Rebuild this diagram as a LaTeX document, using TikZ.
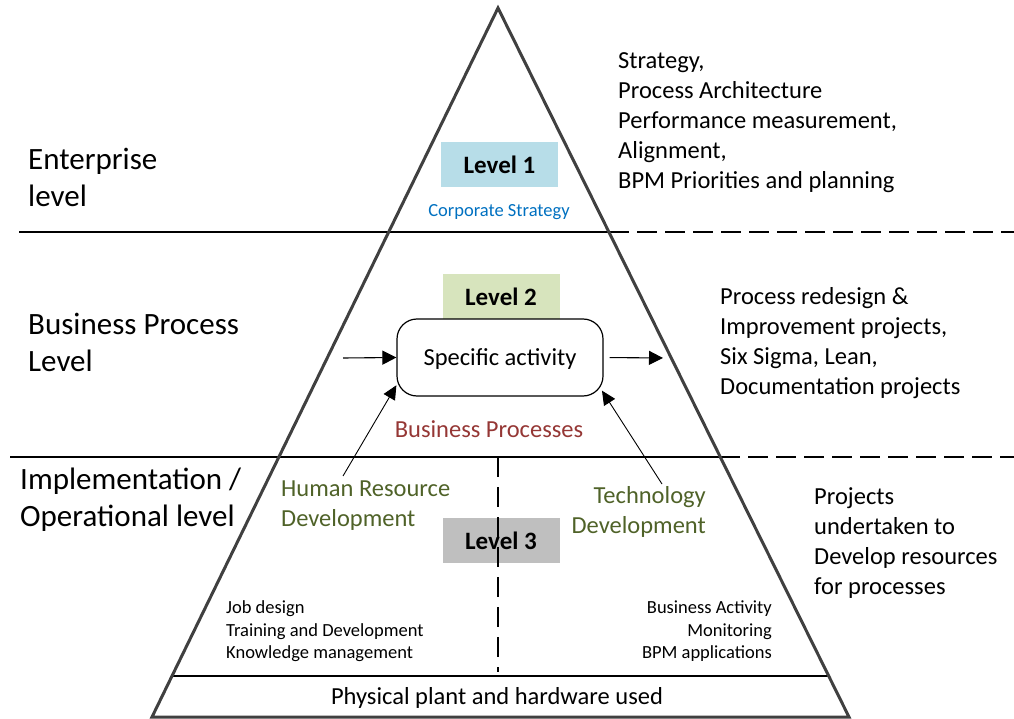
\documentclass[tikz,border=0pt]{standalone}
\usepackage{fontspec}
\setmainfont{Carlito}
\usetikzlibrary{arrows.meta}

\definecolor{triGray}{HTML}{404040}
\definecolor{lvlOne}{HTML}{B7DDE8}
\definecolor{lvlTwo}{HTML}{D7E4BD}
\definecolor{lvlThree}{HTML}{BFBFBF}
\definecolor{corpBlue}{HTML}{0070C0}
\definecolor{bpRed}{HTML}{953735}
\definecolor{devGreen}{HTML}{4F6228}

\begin{document}
\begin{tikzpicture}[x=1pt, y=-1pt,
  bigtxt/.style={font={\fontsize{31}{37}\selectfont}, align=left, inner sep=0pt},
  midtxt/.style={font={\fontsize{24.5}{30}\selectfont}, inner sep=0pt},
  smalltxt/.style={font={\fontsize{18.5}{22.5}\selectfont}, inner sep=0pt},
  lvlbox/.style={minimum width=117, minimum height=45, inner sep=0pt,
    font={\fontsize{25}{30}\selectfont\bfseries}},
  sepline/.style={line width=1.5pt},
  sepdash/.style={line width=2.5pt, dash pattern=on 20pt off 8pt},
  arr/.style={line width=1.1pt, -{Triangle[length=14pt, width=14pt]}},
  thinarr/.style={line width=0.9pt, -{Triangle[length=14pt, width=13pt]}}]
	\useasboundingbox (0,0) rectangle (1014,719);

	% pyramid corners and crossings
	\coordinate (apex) at (498,8);
	\coordinate (bl) at (152,717);
	\coordinate (br) at (849,717);
	\coordinate (r1) at (609,232);
	\coordinate (r2) at (720,457);
	\coordinate (l3) at (172,676);
	\coordinate (r3) at (829,676);

	% level separators
	\draw[sepline] (19,232) -- (r1);
	\draw[sepdash] (r1) -- (1014,232);
	\draw[sepline] (10,457) -- (r2);
	\draw[sepdash] (r2) -- (1014,457);
	\draw[sepline] (l3) -- (r3);

	\draw[line width=3pt, triGray, line join=miter] (apex) -- (bl) -- (br) -- cycle;

	% level 1
	\node[lvlbox, fill=lvlOne] (lvl1) at (499.5,164.5) {Level 1};
	\node[smalltxt, text=corpBlue] (corp) at (499,212) {Corporate Strategy};

	% level 2
	\node[lvlbox, fill=lvlTwo] (lvl2) at (501,297) {Level 2};
	\node[draw, fill=white, line width=1.2pt, rounded corners=20pt,
	  minimum width=206, minimum height=77, text height=21.5pt, text depth=6pt,
	  font={\fontsize{24.5}{30}\selectfont}]
	  (act) at (500,357.5) {Specific activity};
	\node[midtxt, text=bpRed] (bpTxt) at (489,429) {Business Processes};

	\coordinate (actIn) at (343,358);
	\coordinate (actOut) at (663,358);
	\draw[arr] (actIn) -- (act.west);
	\draw[arr, shorten <=6pt] (act.east) -- (actOut);

	% level 3
	\node[lvlbox, fill=lvlThree] (lvl3) at (501,540.5) {Level 3};
	\draw[line width=2.5pt, dash pattern=on 20pt off 10pt] (498,457) -- (498,672);

	\node[midtxt, text=devGreen, align=left, anchor=west] (hrd) at (281,505.5) {Human Resource\\Development};
	\node[midtxt, text=devGreen, align=right, anchor=east] (tech) at (706,512) {Technology\\Development};
	\coordinate (hrTail) at (343,476);
	\coordinate (techTail) at (662,484);
	\draw[thinarr] (hrTail) -- (act.195);
	\draw[thinarr, shorten >=-3pt] (techTail) -- (act.-19);

	\node[smalltxt, align=left, anchor=west] (jobs) at (226,631.5) {Job design\\Training and Development\\Knowledge management};
	\node[smalltxt, align=right, anchor=east] (apps) at (772,631.5) {Business Activity\\Monitoring\\BPM applications};
	\node[midtxt] (plant) at (497,698) {Physical plant and hardware used};

	% level names on the left
	\node[bigtxt, anchor=west] (entL) at (28,177) {Enterprise\\level};
	\node[bigtxt, anchor=west] (bpL) at (28,342) {Business Process\\Level};
	\node[bigtxt, anchor=west] (impL) at (20,500) {Implementation /\\Operational level};

	% project types on the right
	\node[midtxt, align=left, anchor=west] (entR) at (618,122.5) {Strategy,\\Process Architecture\\Performance measurement,\\Alignment,\\BPM Priorities and planning};
	\node[midtxt, align=left, anchor=west] (bpR) at (720,343) {Process redesign \&\\Improvement projects,\\Six Sigma, Lean,\\Documentation projects};
	\node[midtxt, align=left, anchor=west] (impR) at (814,543) {Projects\\undertaken to\\Develop resources\\for processes};
\end{tikzpicture}
\end{document}
